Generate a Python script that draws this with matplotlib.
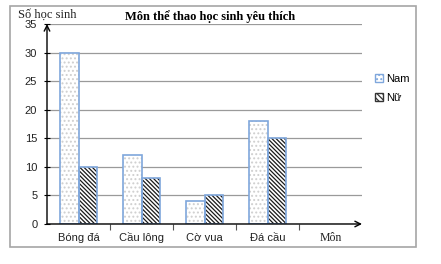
import matplotlib.pyplot as plt
from matplotlib.patches import Rectangle, Patch
import numpy as np

categories = ["Bóng đá", "Cầu lông", "Cờ vua", "Đá cầu"]
nam = [30, 12, 4, 18]
nu = [10, 8, 5, 15]
yticks = [0, 5, 10, 15, 20, 25, 30, 35]

edge_blue = "#7FA7DC"
plt.rcParams['font.family'] = "Liberation Sans"
plt.rcParams['hatch.linewidth'] = 0.9

fig = plt.figure(figsize=(4.41, 2.64), dpi=100)
fig.patches.append(Rectangle((10 / 441, 1 - 247 / 264), 406 / 441, 241 / 264,
                             transform=fig.transFigure, fill=False,
                             edgecolor="#a6a6a6", lw=1.2))

ax = fig.add_axes([47 / 441, 1 - 224 / 264, 315 / 441, 200 / 264])
ax.set_xlim(0, 5)
ax.set_ylim(0, 35)

x = np.arange(len(categories)) + 0.5
w = 0.29

# lớp hoa văn
ax.bar(x - w / 2, nam, w, color="white", hatch="....", edgecolor="#cfcfcf", lw=0, zorder=2)
ax.bar(x + w / 2, nu, w, color="white", hatch="\\\\\\\\\\\\\\\\", edgecolor="#1a1a1a", lw=0, zorder=2)
# viền xanh
ax.bar(x - w / 2, nam, w, fill=False, edgecolor=edge_blue, lw=1.2, zorder=3)
ax.bar(x + w / 2, nu, w, fill=False, edgecolor=edge_blue, lw=1.2, zorder=3)

ax.set_yticks(yticks)
ax.yaxis.grid(True, color="#9a9a9a", lw=0.9)
ax.set_axisbelow(True)
for s in ["top", "right", "left", "bottom"]:
    ax.spines[s].set_visible(False)

ax.annotate("", xy=(0, 1.0), xytext=(0, 0), xycoords="axes fraction",
            arrowprops=dict(arrowstyle="->", color="black", lw=1.0,
                            shrinkA=0, shrinkB=0))
ax.annotate("", xy=(1.0, 0), xytext=(0, 0), xycoords="axes fraction",
            arrowprops=dict(arrowstyle="->", color="black", lw=1.0,
                            shrinkA=0, shrinkB=0))

ax.tick_params(axis="y", length=4, width=0.8, direction="inout", pad=5,
               labelsize=8, labelcolor="#222222")
ax.set_xticks(list(x) + [4.5])
ax.set_xticklabels(categories + ["Môn"])
ax.set_xticks([1, 2, 3, 4], minor=True)
ax.tick_params(axis="x", which="major", length=0, pad=12, labelsize=8,
               labelcolor="#222222")
ax.tick_params(axis="x", which="minor", length=4, width=0.8, color="#555555")
for lbl in ax.get_xticklabels():
    lbl.set_verticalalignment("baseline")
ax.get_xticklabels()[-1].set_fontfamily("Liberation Serif")
ax.get_xticklabels()[-1].set_fontsize(8.5)

fig.text(210 / 441, 1 - 17 / 264, "Môn thể thao học sinh yêu thích", ha="center",
         va="center", fontsize=9, fontweight="bold", family="Liberation Serif")
fig.text(18 / 441, 1 - 15 / 264, "Số học sinh", ha="left", va="center",
         fontsize=9, family="Liberation Serif", color="#222222")

handles = [Patch(facecolor="white", edgecolor=edge_blue, hatch="...."),
           Patch(facecolor="white", edgecolor="#333333", hatch="\\\\\\\\\\\\")]
ax.legend(handles, ["Nam", "Nữ"], loc="upper left", bbox_to_anchor=(1.01, 0.8),
          frameon=False, handlelength=0.7, handleheight=0.7,
          handletextpad=0.25, labelspacing=0.8, prop={"size": 8})

fig.savefig("out.png", dpi=100)
